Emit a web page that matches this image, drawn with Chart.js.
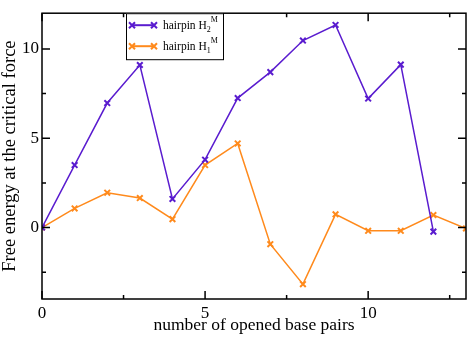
<!DOCTYPE html>
<html>
<head>
<meta charset="utf-8">
<script src="https://cdn.jsdelivr.net/npm/chart.js@4"></script>
<style>
  html, body { margin: 0; padding: 0; background: #fff; }
  #wrap { width: 472px; height: 337px; }
</style>
</head>
<body>
<div id="wrap"><canvas id="myChart" width="472" height="337"></canvas></div>
<script>
// data
const basePairs = [0, 1, 2, 3, 4, 5, 6, 7, 8, 9, 10, 11, 12, 13];
const hairpinH2 = [0, 3.5, 6.97, 9.1, 1.6, 3.8, 7.25, 8.7, 10.47, 11.34, 7.22, 9.12, -0.23];
const hairpinH1 = [0, 1.07, 1.95, 1.65, 0.47, 3.5, 4.71, -0.93, -3.17, 0.74, -0.18, -0.18, 0.7, -0.05];

const xMajorTicks = [0, 5, 10];
const xMinorTicks = [2.5, 7.5, 12.5];
const yMajorTicks = [0, 5, 10];
const yMinorTicks = [-2.5, 2.5, 7.5];

const purple = '#5a1ccf';
const orange = '#ff8a1c';
const serif = "'Liberation Serif', 'DejaVu Serif', serif";

function toPoints(values) {
  return values.map((v, i) => ({x: basePairs[i], y: v}));
}

// frame with inward ticks on all four sides (xmgrace style)
const framePlugin = {
  id: 'frame',
  afterDatasetsDraw(chart) {
    const ctx = chart.ctx;
    const a = chart.chartArea;
    const xs = chart.scales.x, ys = chart.scales.y;
    ctx.save();
    ctx.strokeStyle = '#000';
    ctx.lineWidth = 1.5;
    ctx.strokeRect(a.left, a.top, a.right - a.left, a.bottom - a.top);
    ctx.beginPath();
    const tick = (list, len) => {
      list.forEach(v => {
        const px = xs.getPixelForValue(v);
        ctx.moveTo(px, a.bottom); ctx.lineTo(px, a.bottom - len);
        ctx.moveTo(px, a.top); ctx.lineTo(px, a.top + len);
      });
    };
    const ytick = (list, len) => {
      list.forEach(v => {
        const py = ys.getPixelForValue(v);
        ctx.moveTo(a.left, py); ctx.lineTo(a.left + len, py);
        ctx.moveTo(a.right, py); ctx.lineTo(a.right - len, py);
      });
    };
    tick(xMajorTicks, 8); tick(xMinorTicks, 4);
    ytick(yMajorTicks, 8); ytick(yMinorTicks, 4);
    ctx.stroke();
    ctx.restore();
  }
};

// legend with sub/superscripts
const legendPlugin = {
  id: 'subLegend',
  afterDraw(chart) {
    const ctx = chart.ctx;
    const a = chart.chartArea;
    const x0 = a.left + 84, y0 = a.top, w = 97, h = 46;
    ctx.save();
    ctx.fillStyle = '#fff';
    ctx.fillRect(x0, y0, w, h);
    ctx.strokeStyle = '#000';
    ctx.lineWidth = 1;
    ctx.strokeRect(x0 + 0.5, y0 + 0.5, w, h);
    const entries = [
      {color: purple, sub: '2', y: y0 + 12},
      {color: orange, sub: '1', y: y0 + 33}
    ];
    entries.forEach(e => {
      ctx.strokeStyle = e.color;
      ctx.lineWidth = 2;
      ctx.beginPath();
      ctx.moveTo(x0 + 6, e.y); ctx.lineTo(x0 + 28, e.y);
      ctx.stroke();
      [x0 + 6, x0 + 28].forEach(px => {
        ctx.beginPath();
        ctx.moveTo(px - 3, e.y - 3); ctx.lineTo(px + 3, e.y + 3);
        ctx.moveTo(px - 3, e.y + 3); ctx.lineTo(px + 3, e.y - 3);
        ctx.stroke();
      });
      ctx.fillStyle = '#000';
      ctx.textBaseline = 'alphabetic';
      ctx.font = '11.5px ' + serif;
      const tx = x0 + 37;
      const base = e.y + 4;
      ctx.fillText('hairpin H', tx, base);
      const wMain = ctx.measureText('hairpin H').width;
      ctx.font = '8px ' + serif;
      ctx.fillText(e.sub, tx + wMain, base + 3);
      const wSub = ctx.measureText(e.sub).width;
      ctx.fillText('M', tx + wMain + wSub, base - 7);
    });
    ctx.restore();
  }
};

const myChart = document.getElementById('myChart');

let lineChart = new Chart(myChart, {
  type: 'line',
  data: {
    datasets: [
      {
        label: 'hairpin H2M',
        data: toPoints(hairpinH2),
        borderColor: purple,
        backgroundColor: purple,
        borderWidth: 1.5,
        pointStyle: 'crossRot',
        pointRadius: 4,
        pointBorderWidth: 2,
        tension: 0,
        clip: 0
      },
      {
        label: 'hairpin H1M',
        data: toPoints(hairpinH1),
        borderColor: orange,
        backgroundColor: orange,
        borderWidth: 1.5,
        pointStyle: 'crossRot',
        pointRadius: 4,
        pointBorderWidth: 2,
        tension: 0,
        clip: 0
      }
    ]
  },
  options: {
    responsive: false,
    animation: false,
    layout: { padding: { top: 3, right: 5, left: 0, bottom: 0 } },
    plugins: {
      legend: { display: false },
      tooltip: { enabled: false }
    },
    scales: {
      x: {
        type: 'linear',
        min: 0,
        max: 13,
        grid: { display: false, drawTicks: false },
        border: { display: false },
        afterBuildTicks: s => { s.ticks = xMajorTicks.map(v => ({value: v})); },
        afterFit: s => { s.height = 38; },
        ticks: {
          padding: 4,
          color: '#000',
          maxRotation: 0,
          font: { family: serif, size: 17 }
        },
        title: {
          display: true,
          text: 'number of opened base pairs',
          color: '#000',
          font: { family: serif, size: 17.5 },
          padding: { top: 0, bottom: 1 }
        }
      },
      y: {
        type: 'linear',
        min: -4,
        max: 12,
        grid: { display: false, drawTicks: false },
        border: { display: false },
        afterBuildTicks: s => { s.ticks = yMajorTicks.map(v => ({value: v})); },
        afterFit: s => { s.width = 42; },
        ticks: {
          padding: 3,
          color: '#000',
          font: { family: serif, size: 17 }
        },
        title: {
          display: true,
          text: 'Free energy at the critical force',
          color: '#000',
          font: { family: serif, size: 18.5 },
          padding: { top: -1, bottom: 0 }
        }
      }
    }
  },
  plugins: [framePlugin, legendPlugin]
});
</script>
</body>
</html>
